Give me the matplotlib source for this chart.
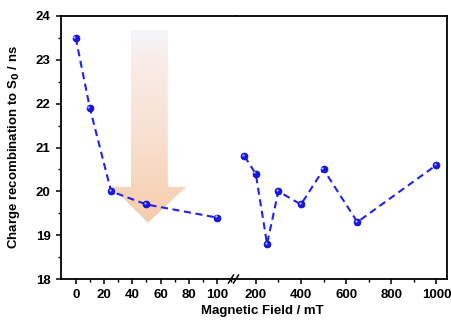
import numpy as np
import matplotlib
matplotlib.use("Agg")
import matplotlib.pyplot as plt
from matplotlib.patches import Polygon
from matplotlib.colors import LinearSegmentedColormap
from matplotlib.transforms import offset_copy

plt.rcParams['font.family'] = ['Liberation Sans', 'DejaVu Sans']
plt.rcParams['font.weight'] = 'bold'

# data
field_low = [0, 10, 25, 50, 100]
tau_low = [23.5, 21.9, 20.0, 19.7, 19.4]
field_high = [150, 200, 250, 300, 400, 500, 650, 1000]
tau_high = [20.8, 20.4, 18.8, 20.0, 19.7, 20.5, 19.3, 20.6]

low_ticks = [0, 20, 40, 60, 80, 100]
high_ticks = [200, 400, 600, 800, 1000]
y_ticks = [18, 19, 20, 21, 22, 23, 24]

W, H = 452, 323
fig = plt.figure(figsize=(W / 100, H / 100), dpi=100)
L, R, T, B, BRK = 61, 447, 16, 279, 235
axL = fig.add_axes([L / W, (H - B) / H, (BRK - L) / W, (B - T) / H])
axR = fig.add_axes([BRK / W, (H - B) / H, (R - BRK) / W, (B - T) / H])

line_kw = dict(color='#2222ee', linestyle=(0, (3.4, 2.2)), linewidth=1.5,
               marker='o', markersize=5.0, markerfacecolor='#1515f0',
               markeredgecolor='#0a0ab0', markeredgewidth=0.5, zorder=5)

for ax, xs, ys in ((axL, field_low, tau_low), (axR, field_high, tau_high)):
    ax.plot(xs, ys, **line_kw)
    hl = offset_copy(ax.transData, fig=fig, x=-1.0, y=1.0, units='points')
    ax.plot(xs, ys, linestyle='none', marker='o', markersize=1.6,
            markerfacecolor='#b8b8ff', markeredgecolor='none',
            transform=hl, zorder=6)

for ax in (axL, axR):
    ax.set_ylim(18, 24)
    for s in ax.spines.values():
        s.set_linewidth(1.3)
    ax.tick_params(axis='both', direction='out', width=1.1, length=3.5,
                   labelsize=9.5, pad=4)
    ax.tick_params(which='minor', direction='out', width=1.0, length=2)

axL.set_xlim(-10.4, 112.6)
axR.set_xlim(108, 1047)
axL.set_xticks(low_ticks)
axL.set_xticks([10, 30, 50, 70, 90, 110], minor=True)
axR.set_xticks(high_ticks)
axR.set_xticks([300, 500, 700, 900], minor=True)
axL.set_yticks(y_ticks)
axL.set_yticks(np.arange(18.5, 24, 1.0), minor=True)
axL.set_yticklabels([str(v) for v in y_ticks], fontweight='bold')
axL.set_xticklabels([str(v) for v in low_ticks], fontweight='bold')
axR.set_xticklabels([str(v) for v in high_ticks], fontweight='bold')
axL.spines['right'].set_visible(False)
axR.spines['left'].set_visible(False)
axR.tick_params(axis='y', left=False, labelleft=False)
axL.tick_params(axis='y', right=False)

# gradient arrow on the left panel
cmap = LinearSegmentedColormap.from_list(
    'arr', [(0.0, (0.965, 0.80, 0.67)), (0.45, (0.97, 0.88, 0.82)),
            (0.85, (0.975, 0.93, 0.91)), (1.0, (0.96, 0.965, 0.985))])
x0, x1, x2, x3, x4 = 25.8, 39.1, 51.1, 65.1, 78.0
y_top, y_head, y_tip = 23.68, 20.10, 19.28
verts = [(x1, y_top), (x3, y_top), (x3, y_head), (x4, y_head),
         (x2, y_tip), (x0, y_head), (x1, y_head)]
poly = Polygon(verts, closed=True, facecolor='none', edgecolor='none')
axL.add_patch(poly)
grad = np.linspace(0, 1, 256).reshape(-1, 1)
im = axL.imshow(grad, cmap=cmap, extent=[x0, x4, y_tip, y_top],
                origin='lower', aspect='auto', zorder=1, interpolation='bilinear')
im.set_clip_path(poly)
axL.set_xlim(-10.4, 112.6)
axL.set_ylim(18, 24)

# break marks on bottom axis
yb = 1 - B / H
for dx in (-4, 1):
    fig.add_artist(plt.Line2D([(BRK + dx - 2.5) / W, (BRK + dx + 2.5) / W],
                              [yb - 4 / H, yb + 4 / H], color='black',
                              linewidth=1.1))

fig.text(262 / W, 1 - 311 / H, 'Magnetic Field / mT', ha='center', va='center',
         fontsize=9.5, fontweight='bold')
fig.text(14 / W, 1 - 147 / H, 'Charge recombination to S$_\\mathbf{0}$ / ns',
         rotation=90, ha='center', va='center', fontsize=9.5, fontweight='bold')

fig.savefig('out.png', dpi=100)
